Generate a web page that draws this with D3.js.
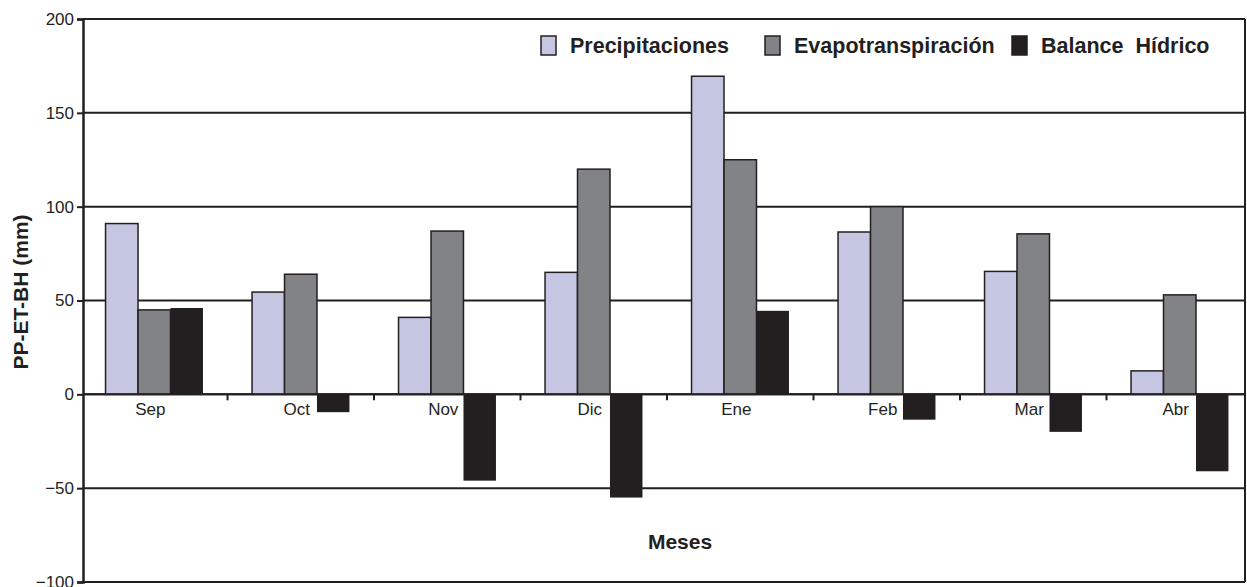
<!DOCTYPE html>
<html><head><meta charset="utf-8">
<script src="https://cdn.jsdelivr.net/npm/d3@7"></script>
<style>body{margin:0;background:#fff}svg{display:block}text{font-family:"Liberation Sans",Arial,sans-serif;fill:#231f20}</style>
</head><body><svg id="c" width="1247" height="587"></svg>
<script>
const months = ["Sep","Oct","Nov","Dic","Ene","Feb","Mar","Abr"];
const series = ["Precipitaciones","Evapotranspiración","Balance  Hídrico"];
const precip = [91, 54.5, 41, 65, 169.5, 86.5, 65.5, 12.5];
const evapo = [45, 64, 87, 120, 125, 100, 85.5, 53];
const balance = [46, -9.5, -46, -55, 44.5, -13.5, -20, -41];
const yTicks = [-100, -50, 0, 50, 100, 150, 200];
const colors = ["#c4c6e2", "#828387", "#231f20"];
const ink = "#231f20";

const svg = d3.select("#c");
const L = 83, R = 1245, T = 19, B = 582;
const y = d3.scaleLinear().domain([-100, 200]).range([B, T]);
const x = d3.scaleBand().domain(months).range([81, 1253]).paddingInner(0.335).paddingOuter(0.1675);
const xs = d3.scaleBand().domain(series).range([0, x.bandwidth()]);
const vals = [precip, evapo, balance];

// gridlines
svg.append("g").selectAll("line").data(yTicks).join("line")
  .attr("x1", L).attr("x2", R).attr("y1", d => y(d)).attr("y2", d => y(d))
  .attr("stroke", ink).attr("stroke-width", 2);
// right frame
svg.append("line").attr("x1", R).attr("x2", R).attr("y1", T).attr("y2", B).attr("stroke", ink).attr("stroke-width", 2);

// y axis
const ya = svg.append("g").attr("transform", `translate(${L},0)`)
  .call(d3.axisLeft(y).tickValues(yTicks).tickSize(6).tickPadding(3));
ya.select(".domain").attr("stroke", ink).attr("stroke-width", 2.5);
ya.selectAll(".tick line").attr("stroke", ink).attr("stroke-width", 2);
ya.selectAll(".tick text").style("font-size", "17px").attr("fill", ink);

// bars
const groups = svg.append("g").selectAll("g").data(months).join("g")
  .attr("transform", d => `translate(${x(d)},0)`);
series.forEach((s, si) => {
  groups.append("rect")
    .attr("x", xs(s)).attr("width", xs.bandwidth())
    .attr("y", (d, i) => y(Math.max(0, vals[si][i])))
    .attr("height", (d, i) => Math.abs(y(vals[si][i]) - y(0)))
    .attr("fill", colors[si])
    .attr("stroke", si < 2 ? ink : "none").attr("stroke-width", 1.5);
});

// zero line on top
svg.append("line").attr("x1", L).attr("x2", R).attr("y1", y(0)).attr("y2", y(0)).attr("stroke", ink).attr("stroke-width", 2);

// x ticks between categories
const step = x.step();
svg.append("g").selectAll("line").data(months.slice(1)).join("line")
  .attr("x1", d => x(d) - (step - x.bandwidth()) / 2).attr("x2", d => x(d) - (step - x.bandwidth()) / 2)
  .attr("y1", y(0)).attr("y2", y(0) + 6).attr("stroke", ink).attr("stroke-width", 2);

// x labels
svg.append("g").selectAll("text").data(months).join("text")
  .attr("x", d => x(d) + x.bandwidth() / 2 - 4).attr("y", y(0) + 21)
  .attr("text-anchor", "middle").style("font-size", "17px").text(d => d);

// axis titles
svg.append("text").attr("transform", "translate(28,292) rotate(-90)")
  .attr("text-anchor", "middle").style("font-size", "21px").style("font-weight", "bold").text("PP-ET-BH (mm)");
svg.append("text").attr("x", 680).attr("y", 549)
  .attr("text-anchor", "middle").style("font-size", "21px").style("font-weight", "bold").text("Meses");

// legend
const legX = [541, 765, 1012];
const lg = svg.append("g").selectAll("g").data(series).join("g")
  .attr("transform", (d, i) => `translate(${legX[i]},36)`);
lg.append("rect").attr("width", 15).attr("height", 19).attr("fill", (d, i) => colors[i])
  .attr("stroke", ink).attr("stroke-width", 1.5);
lg.append("text").attr("x", 29).attr("y", 17).style("font-size", "21.5px").style("font-weight", "bold")
  .style("white-space", "pre").text(d => d);
</script></body></html>
